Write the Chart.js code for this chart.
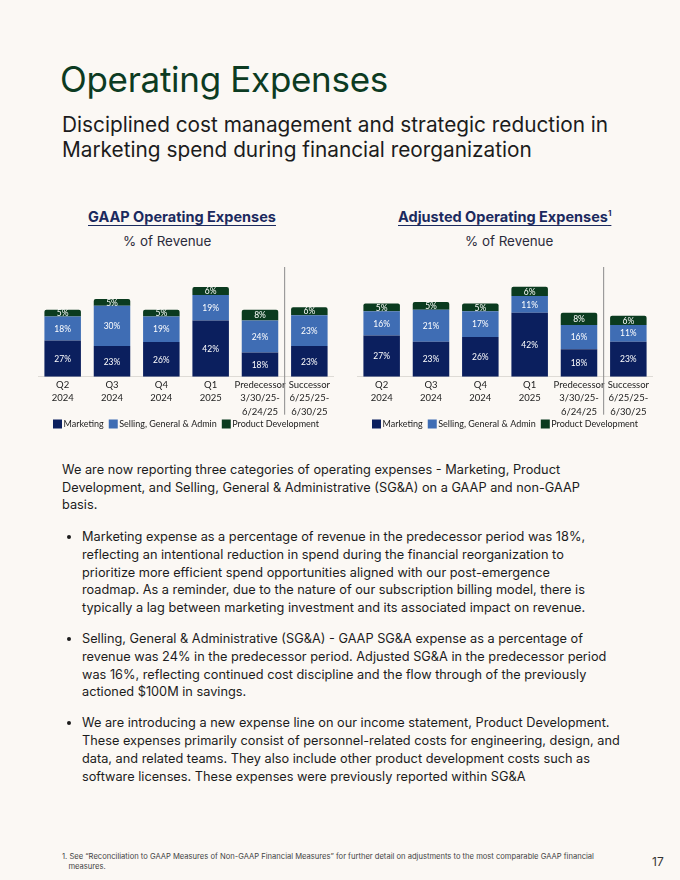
<!DOCTYPE html>
<html>
<head>
<meta charset="utf-8">
<script src="https://cdn.jsdelivr.net/npm/chart.js@4.4.1/dist/chart.umd.min.js"></script>
<style>
  html, body { margin: 0; padding: 0; }
  body { width: 680px; height: 880px; background: #fbf8f4; position: relative; overflow: hidden;
         font-family: "Inter", "Lato", sans-serif; color: #1c1c1c; }
  .abs { position: absolute; }
  #title { left: 60px; top: 58px; font-size: 35px; color: #0c3b22; letter-spacing: -0.3px; }
  #subtitle { left: 62px; top: 112px; width: 610px; font-size: 20.8px; line-height: 25px; }
  .ctitle { font-size: 14.5px; font-weight: 700; color: #1b2a5e; text-decoration: underline; text-underline-offset: 3px; text-decoration-thickness: 1px; white-space: nowrap; }
  .csub { font-size: 13.4px; color: #2b2b3b; white-space: nowrap; }
  #body { left: 62px; top: 461px; width: 600px; font-size: 12.75px; line-height: 17.7px; white-space: nowrap; }
  #body p { margin: 0 0 14px 0; }
  #body ul { margin: 0; padding-left: 20px; }
  #body li { margin: 0 0 13.5px 0; }
  #foot { left: 62px; top: 852px; width: 560px; font-size: 7.6px; line-height: 9.5px; color: #444; }
  #page { left: 652px; top: 854px; font-size: 12px; color: #333; }
</style>
</head>
<body>
<div id="title" class="abs">Operating Expenses</div>
<div id="subtitle" class="abs">Disciplined cost management and strategic reduction in<br>Marketing spend during financial reorganization</div>

<div class="abs ctitle" style="left:88px; top:208px;">GAAP Operating Expenses</div>
<div class="abs csub" style="left:123px; top:233px;">% of Revenue</div>
<div class="abs ctitle" style="left:398px; top:208px;">Adjusted Operating Expenses<sup style="font-size:8px">1</sup></div>
<div class="abs csub" style="left:465px; top:233px;">% of Revenue</div>

<div class="abs" style="left:38px; top:255px; width:296px; height:185px;"><canvas id="gaap"></canvas></div>
<div class="abs" style="left:357px; top:255px; width:296px; height:185px;"><canvas id="adj"></canvas></div>

<div id="body" class="abs">
  <p>We are now reporting three categories of operating expenses - Marketing, Product<br>Development, and Selling, General &amp; Administrative (SG&amp;A) on a GAAP and non-GAAP<br>basis.</p>
  <ul>
    <li>Marketing expense as a percentage of revenue in the predecessor period was 18%,<br>reflecting an intentional reduction in spend during the financial reorganization to<br>prioritize more efficient spend opportunities aligned with our post-emergence<br>roadmap. As a reminder, due to the nature of our subscription billing model, there is<br>typically a lag between marketing investment and its associated impact on revenue.</li>
    <li>Selling, General &amp; Administrative (SG&amp;A) - GAAP SG&amp;A expense as a percentage of<br>revenue was 24% in the predecessor period. Adjusted SG&amp;A in the predecessor period<br>was 16%, reflecting continued cost discipline and the flow through of the previously<br>actioned $100M in savings.</li>
    <li>We are introducing a new expense line on our income statement, Product Development.<br>These expenses primarily consist of personnel-related costs for engineering, design, and<br>data, and related teams. They also include other product development costs such as<br>software licenses. These expenses were previously reported within SG&amp;A</li>
  </ul>
</div>

<div id="foot" class="abs">1. See “Reconciliation to GAAP Measures of Non-GAAP Financial Measures” for further detail on adjustments to the most comparable GAAP financial<br>&nbsp;&nbsp;&nbsp;measures.</div>
<div id="page" class="abs">17</div>

<script>
// periods on x axis (multi-line labels)
const periods = [
    ['Q2', '2024'],
    ['Q3', '2024'],
    ['Q4', '2024'],
    ['Q1', '2025'],
    ['Predecessor', '3/30/25-', '6/24/25'],
    ['Successor', '6/25/25-', '6/30/25']
];
const seriesNames = ['Marketing', 'Selling, General & Admin', 'Product Development'];

// GAAP, % of revenue
const gaapMarketing = [27, 23, 26, 42, 18, 23];
const gaapSGA = [18, 30, 19, 19, 24, 23];
const gaapProductDev = [5, 5, 5, 6, 8, 6];

// Adjusted, % of revenue
const adjMarketing = [27, 23, 26, 42, 18, 23];
const adjSGA = [16, 21, 17, 11, 16, 11];
const adjProductDev = [5, 5, 5, 6, 8, 6];

const colors = ['#0b1f5e', '#3f6db4', '#0b3b1f'];
const FONT = 'Lato, sans-serif';

// labels in middle of each segment
const segLabels = {
    id: 'segLabels',
    afterDatasetsDraw(chart) {
        const ctx = chart.ctx;
        ctx.save();
        ctx.fillStyle = '#ffffff';
        ctx.font = '8.5px ' + FONT;
        ctx.textAlign = 'center';
        ctx.textBaseline = 'middle';
        chart.data.datasets.forEach((ds, i) => {
            const meta = chart.getDatasetMeta(i);
            meta.data.forEach((bar, j) => {
                ctx.fillText(ds.data[j] + '%', bar.x, (bar.y + bar.base) / 2 + 0.5);
            });
        });
        ctx.restore();
    }
};

// divider between predecessor / successor
const divider = {
    id: 'divider',
    afterDraw(chart) {
        const xs = chart.scales.x;
        const x = (xs.getPixelForValue(4) + xs.getPixelForValue(5)) / 2;
        const ctx = chart.ctx;
        ctx.save();
        ctx.strokeStyle = '#8a8a8a';
        ctx.lineWidth = 1;
        ctx.beginPath();
        ctx.moveTo(x, chart.chartArea.top);
        ctx.lineTo(x, chart.chartArea.bottom + 38);
        ctx.stroke();
        ctx.restore();
    }
};

// compact legend: squares right next to text, one row at the bottom
const tightLegend = {
    id: 'tightLegend',
    afterDraw(chart) {
        const ctx = chart.ctx;
        const box = 9, gap = 1.5, spacing = 5;
        ctx.save();
        ctx.font = '9px ' + FONT;
        ctx.textBaseline = 'middle';
        const items = chart.data.datasets.map(ds => ({ text: ds.label, color: ds.backgroundColor, w: ctx.measureText(ds.label).width }));
        const total = items.reduce((s, it) => s + box + gap + it.w, 0) + spacing * (items.length - 1);
        let x = (chart.width - total) / 2;
        const y = chart.height - 16;
        items.forEach(it => {
            ctx.fillStyle = it.color;
            ctx.fillRect(x, y - box / 2, box, box);
            x += box + gap;
            ctx.fillStyle = '#222';
            ctx.fillText(it.text, x, y + 0.5);
            x += it.w + spacing;
        });
        ctx.restore();
    }
};

function makeStack(id, mkt, sga, pd, yMax) {
    const data = {
        labels: periods,
        datasets: [
            { label: seriesNames[0], data: mkt, backgroundColor: colors[0] },
            { label: seriesNames[1], data: sga, backgroundColor: colors[1] },
            { label: seriesNames[2], data: pd, backgroundColor: colors[2], borderRadius: { topLeft: 2, topRight: 2 }, borderSkipped: false }
        ]
    };
    return new Chart(document.getElementById(id), {
        type: 'bar',
        data: data,
        plugins: [segLabels, divider, tightLegend],
        options: {
            responsive: true,
            maintainAspectRatio: false,
            animation: false,
            datasets: { bar: { categoryPercentage: 1, barPercentage: 0.74 } },
            layout: { padding: { top: 12, left: 0, right: 0, bottom: 20 } },
            plugins: {
                legend: { display: false },
                tooltip: { enabled: false }
            },
            scales: {
                x: {
                    stacked: true,
                    grid: { display: false, drawTicks: false },
                    border: { display: true, color: '#dedbd6' },
                    ticks: { color: '#222', font: { size: 9.5, family: 'Lato', lineHeight: 1.45 }, padding: 1, maxRotation: 0, autoSkip: false }
                },
                y: { stacked: true, display: false, min: 0, max: yMax }
            }
        }
    });
}

makeStack('gaap', gaapMarketing, gaapSGA, gaapProductDev, 82);
makeStack('adj', adjMarketing, adjSGA, adjProductDev, 72);
</script>
</body>
</html>
